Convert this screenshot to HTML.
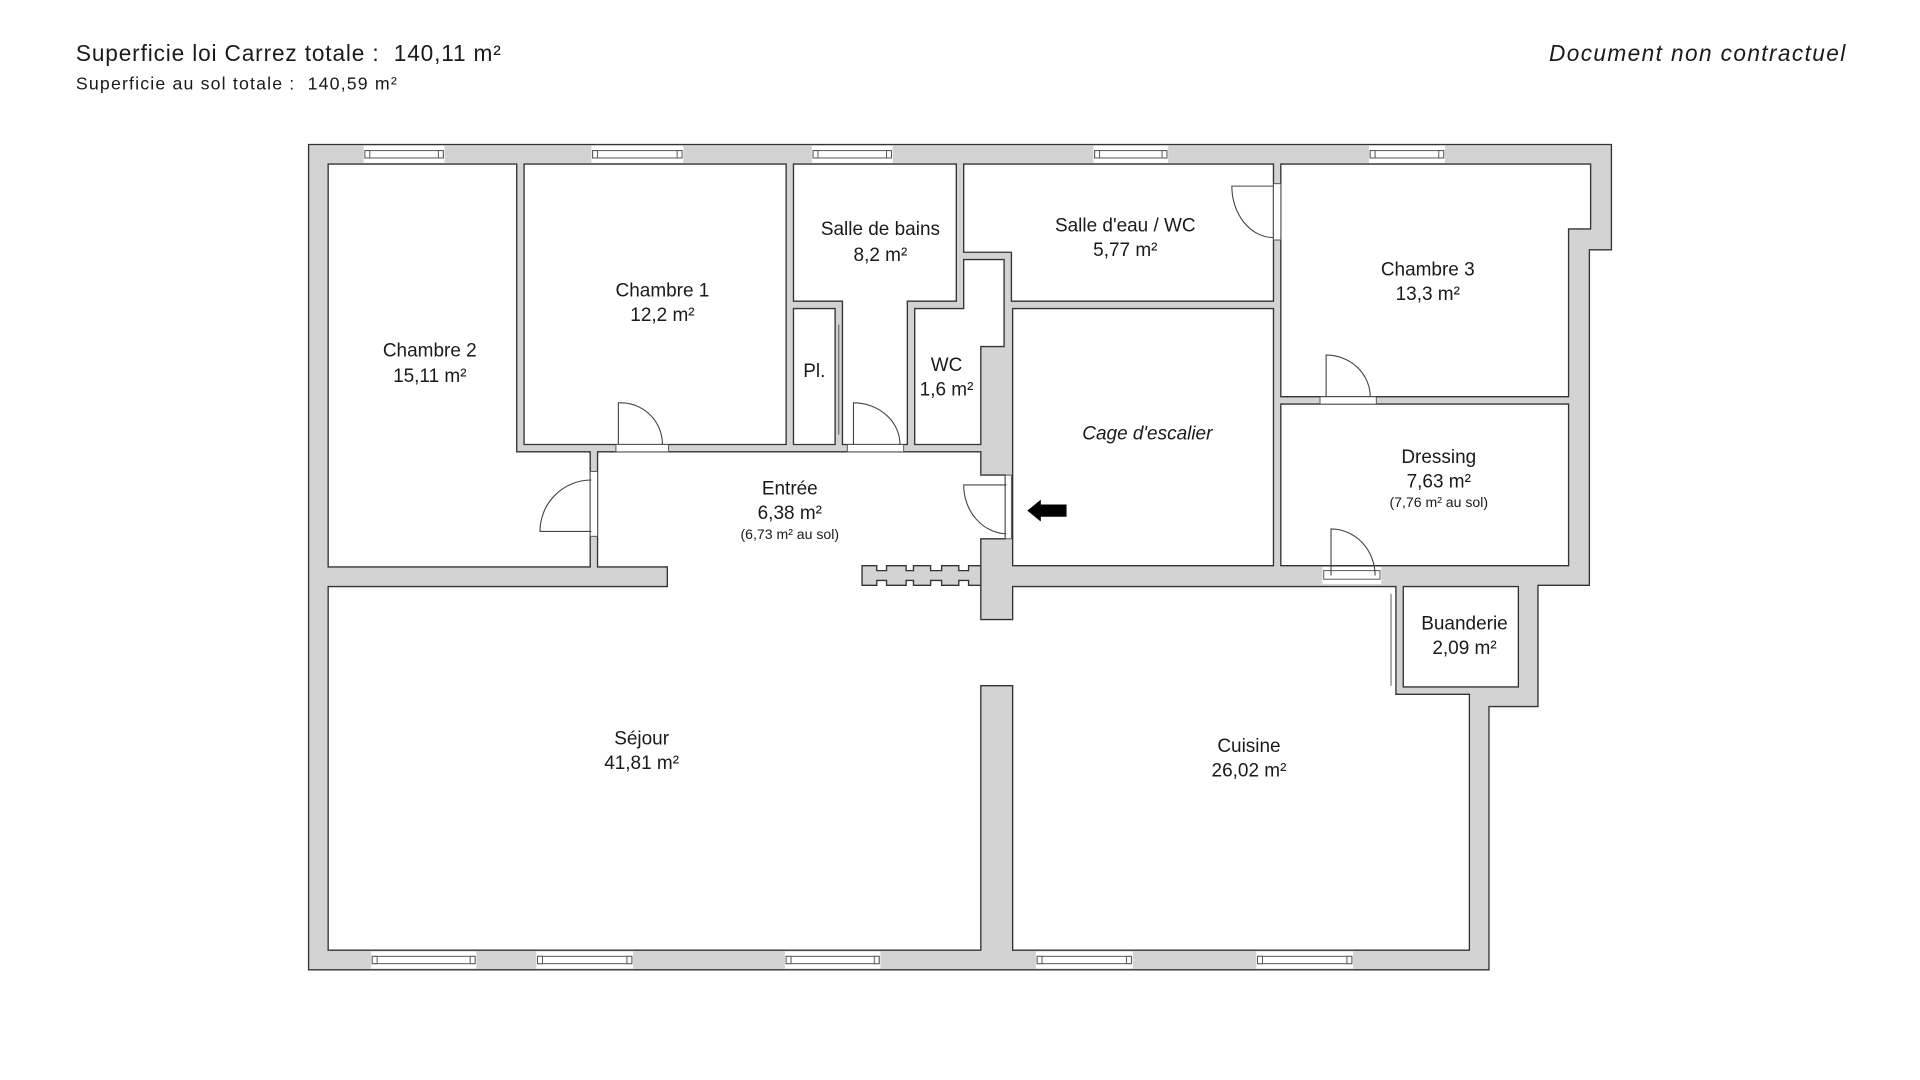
<!DOCTYPE html>
<html><head><meta charset="utf-8"><style>
html,body{margin:0;padding:0;background:#fff;width:1920px;height:1080px;overflow:hidden}
svg{display:block}
text{font-family:"Liberation Sans",sans-serif;fill:#1a1a1a}
</style></head><body>
<svg width="1920" height="1080" viewBox="0 0 1568 882" xmlns="http://www.w3.org/2000/svg">
<text x="62" y="50" font-size="18.5" textLength="347" lengthAdjust="spacing">Superficie loi Carrez totale :&#160; 140,11 m²</text>
<text x="62" y="73" font-size="14.5" textLength="262" lengthAdjust="spacing">Superficie au sol totale :&#160; 140,59 m²</text>
<text x="1265" y="50" font-size="18.5" font-style="italic" textLength="242" lengthAdjust="spacing">Document non contractuel</text>

<g stroke="#333" stroke-width="1.1" stroke-linejoin="miter">
<polygon fill="#d3d3d3" points="252,118 1316,118 1316,204 1298,204 1298,478 1256,478 1256,577 1216,577 1216,792 252,792"/>
<g fill="#fff">
<polygon points="268,134 422,134 422,369 482,369 482,463 268,463"/>
<polygon points="428,134 642,134 642,363 428,363"/>
<polygon points="648,134 781,134 781,246 741,246 741,363 688,363 688,246 648,246"/>
<polygon points="648,252 682,252 682,363 648,363"/>
<polygon points="787,212 820,212 820,283 801,283 801,363 747,363 747,252 787,252"/>
<polygon points="787,134 1040,134 1040,246 826,246 826,206 787,206"/>
<polygon points="827,252 1040,252 1040,462 827,462"/>
<polygon points="1046,134 1299,134 1299,187 1281,187 1281,324 1046,324"/>
<polygon points="1046,330 1281,330 1281,462 1046,462"/>
<polygon points="1146,479 1240,479 1240,561 1146,561"/>
<polygon points="488,369 801,369 801,388 821,388 821,440 801,440 801,506 827,506 827,479 1140,479 1140,567 1200,567 1200,776 827,776 827,560 801,560 801,776 268,776 268,479 545,479 545,463 488,463"/>
</g>
<path fill="#d3d3d3" d="M704,462 H716 V466 H724 V462 H740 V466 H746 V462 H760 V466 H769 V462 H783 V466 H791 V462 H801 V478 H791 V474 H783 V478 H769 V474 H760 V478 H746 V474 H740 V478 H724 V474 H716 V478 H704 Z"/>
</g>

<g fill="#fff" stroke="#555" stroke-width="0.8">
<rect x="297" y="119" width="66" height="14" stroke="none"/>
<rect x="483" y="119" width="75" height="14" stroke="none"/>
<rect x="663" y="119" width="66" height="14" stroke="none"/>
<rect x="893" y="119" width="61" height="14" stroke="none"/>
<rect x="1118" y="119" width="62" height="14" stroke="none"/>
<rect x="303" y="777" width="86" height="14" stroke="none"/>
<rect x="438" y="777" width="79" height="14" stroke="none"/>
<rect x="641" y="777" width="78" height="14" stroke="none"/>
<rect x="846" y="777" width="79" height="14" stroke="none"/>
<rect x="1026" y="777" width="79" height="14" stroke="none"/>
<rect x="1080" y="463" width="48" height="14" stroke="none"/>
<rect x="298" y="123" width="64" height="6"/><rect x="484" y="123" width="73" height="6"/>
<rect x="664" y="123" width="64" height="6"/><rect x="894" y="123" width="59" height="6"/>
<rect x="1119" y="123" width="60" height="6"/>
<rect x="304" y="781" width="84" height="6"/><rect x="439" y="781" width="77" height="6"/>
<rect x="642" y="781" width="76" height="6"/><rect x="847" y="781" width="77" height="6"/>
<rect x="1027" y="781" width="77" height="6"/>
<rect x="1081" y="466" width="46" height="7"/>
<rect x="298" y="123" width="4" height="6"/><rect x="358" y="123" width="4" height="6"/>
<rect x="484" y="123" width="4" height="6"/><rect x="553" y="123" width="4" height="6"/>
<rect x="664" y="123" width="4" height="6"/><rect x="724" y="123" width="4" height="6"/>
<rect x="894" y="123" width="4" height="6"/><rect x="949" y="123" width="4" height="6"/>
<rect x="1119" y="123" width="4" height="6"/><rect x="1175" y="123" width="4" height="6"/>
<rect x="304" y="781" width="4" height="6"/><rect x="384" y="781" width="4" height="6"/>
<rect x="439" y="781" width="4" height="6"/><rect x="512" y="781" width="4" height="6"/>
<rect x="642" y="781" width="4" height="6"/><rect x="714" y="781" width="4" height="6"/>
<rect x="847" y="781" width="4" height="6"/><rect x="920" y="781" width="4" height="6"/>
<rect x="1027" y="781" width="4" height="6"/><rect x="1100" y="781" width="4" height="6"/>
<rect x="503" y="363" width="43" height="6"/>
<rect x="692" y="363" width="46" height="6"/>
<rect x="1078" y="324" width="46" height="6"/>
<rect x="482" y="385" width="6" height="53"/>
<rect x="821" y="388" width="5" height="52"/>
<rect x="1040" y="150" width="6" height="46"/>
<line x1="685" y1="265" x2="685" y2="355"/>
<line x1="1136" y1="485" x2="1136" y2="560"/>
</g>

<g fill="none" stroke="#444" stroke-width="0.9">
<path d="M505,363 V329 A34,34 0 0 1 541,363"/>
<path d="M697,363 V329 A38,34 0 0 1 735,363"/>
<path d="M483,434 H441 A42,42 0 0 1 483,392"/>
<path d="M822,396 H787 A36,40 0 0 0 822,436"/>
<path d="M1040,152 H1006 A34,42 0 0 0 1040,194"/>
<path d="M1083,324 V290 A36,34 0 0 1 1119,324"/>
<path d="M1087,470 V432 A36,38 0 0 1 1123,470"/>
</g>
<polygon points="839,417 850,408 850,412 871,412 871,422 850,422 850,426" fill="#000"/>

<g font-size="15.5" text-anchor="middle">
<text x="351" y="291">Chambre 2</text><text x="351" y="312">15,11 m²</text>
<text x="541" y="242">Chambre 1</text><text x="541" y="262">12,2 m²</text>
<text x="719" y="192">Salle de bains</text><text x="719" y="213">8,2 m²</text>
<text x="665" y="308">Pl.</text>
<text x="773" y="303">WC</text><text x="773" y="323">1,6 m²</text>
<text x="919" y="189">Salle d'eau / WC</text><text x="919" y="209">5,77 m²</text>
<text x="937" y="359" font-style="italic">Cage d'escalier</text>
<text x="1166" y="225">Chambre 3</text><text x="1166" y="245">13,3 m²</text>
<text x="1175" y="378">Dressing</text><text x="1175" y="398">7,63 m²</text>
<text x="1175" y="414" font-size="11.5">(7,76 m² au sol)</text>
<text x="645" y="404">Entrée</text><text x="645" y="424">6,38 m²</text>
<text x="645" y="440" font-size="11.5">(6,73 m² au sol)</text>
<text x="1196" y="514">Buanderie</text><text x="1196" y="534">2,09 m²</text>
<text x="524" y="608">Séjour</text><text x="524" y="628">41,81 m²</text>
<text x="1020" y="614">Cuisine</text><text x="1020" y="634">26,02 m²</text>
</g>
</svg>
</body></html>
